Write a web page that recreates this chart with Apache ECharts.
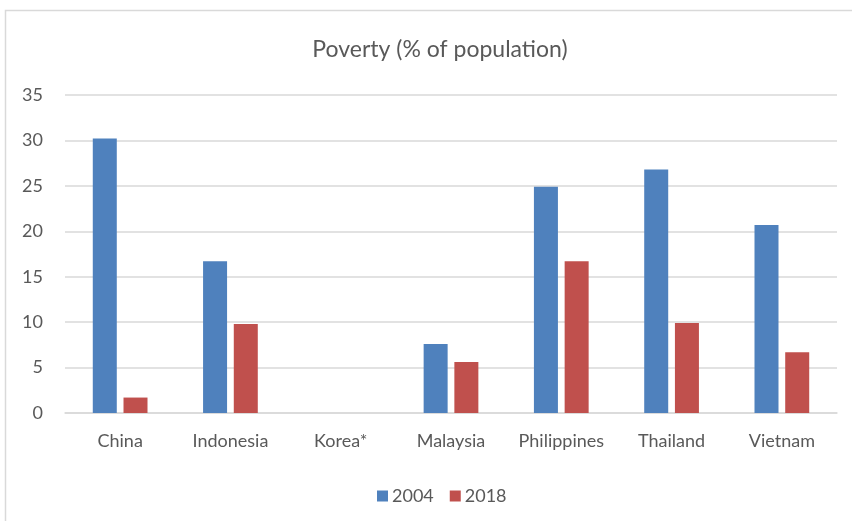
<!DOCTYPE html>
<html>
<head>
<meta charset="utf-8">
<script src="https://cdn.jsdelivr.net/npm/echarts@6/dist/echarts.min.js"></script>
<style>
html,body{margin:0;padding:0;background:#fff;}
#chart{width:852px;height:521px;}
</style>
</head>
<body>
<div id="chart"></div>
<script>
const categories = ['China', 'Indonesia', 'Korea*', 'Malaysia', 'Philippines', 'Thailand', 'Vietnam'];
const series2004 = [30.2, 16.7, null, 7.6, 24.9, 26.8, 20.7];
const series2018 = [1.7, 9.8, null, 5.6, 16.7, 9.9, 6.7];
const seriesNames = ['2004', '2018'];
const titleText = 'Poverty (% of population)';

const FONT = 'Lato, "Open Sans", sans-serif';
const TXT = '#595959';

const chart = echarts.init(document.getElementById('chart'), null, {renderer: 'canvas'});
chart.setOption({
  backgroundColor: '#ffffff',
  animation: false,
  graphic: [{
    type: 'polyline',
    shape: {points: [[5.5, 530], [5.5, 10.5], [860, 10.5]]},
    style: {stroke: '#D9D9D9', lineWidth: 1.5, fill: null},
    silent: true
  }],
  title: {
    text: titleText,
    left: 435,
    top: 33,
    textAlign: 'center',
    textStyle: {fontFamily: FONT, fontSize: 23, fontWeight: 'normal', color: TXT}
  },
  legend: {
    data: seriesNames,
    left: 372,
    top: 482,
    itemWidth: 11,
    itemHeight: 11,
    itemGap: 16,
    icon: 'rect',
    textStyle: {fontFamily: FONT, fontSize: 18, color: TXT, padding: [0, 0, 0, -1]}
  },
  grid: {left: 65, right: 15, top: 95, bottom: 108, containLabel: false},
  xAxis: {
    type: 'category',
    data: categories,
    axisLine: {lineStyle: {color: '#D9D9D9', width: 1.5}},
    axisTick: {show: false},
    axisLabel: {interval: 0, fontFamily: FONT, fontSize: 18, color: TXT, margin: 19}
  },
  yAxis: {
    type: 'value',
    min: 0,
    max: 35,
    interval: 5,
    axisLine: {show: false},
    axisTick: {show: false},
    splitLine: {lineStyle: {color: '#D9D9D9', width: 1.5}},
    axisLabel: {fontFamily: FONT, fontSize: 18, color: TXT, margin: 22}
  },
  series: [
    {name: seriesNames[0], type: 'bar', data: series2004, barWidth: 24, barGap: '28%',
     itemStyle: {color: '#4F81BD'}},
    {name: seriesNames[1], type: 'bar', data: series2018, barWidth: 24, barGap: '28%',
     itemStyle: {color: '#C0504D'}}
  ]
});
</script>
</body>
</html>
